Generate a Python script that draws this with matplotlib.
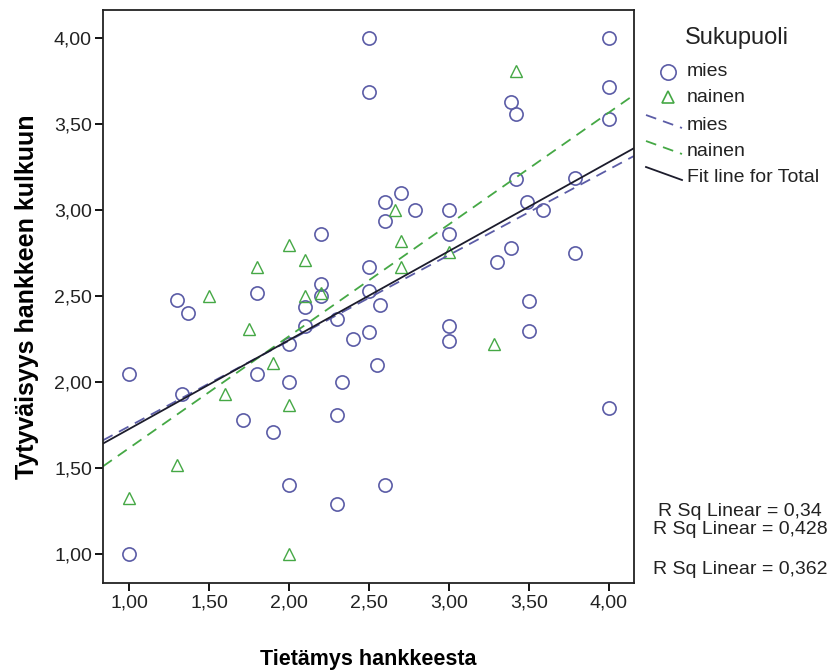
import numpy as np
import matplotlib
matplotlib.use("Agg")
import matplotlib.pyplot as plt
from matplotlib.lines import Line2D

# values (Tietämys vs Tytyväisyys, by sukupuoli)
mies_x = [2.50, 2.50, 4.00, 4.00, 4.00, 3.39, 3.42, 3.42, 3.79, 2.70,
          2.60, 2.60, 2.79, 3.00, 3.49, 3.59, 2.20, 3.00, 3.39, 3.79,
          3.30, 2.50, 2.20, 2.20, 2.10, 2.50, 2.57, 2.30, 2.10, 2.50,
          2.40, 3.00, 3.00, 3.50, 3.50, 2.55, 2.33, 1.30, 1.37, 1.80,
          2.00, 1.00, 1.80, 2.00, 1.33, 1.71, 1.90, 2.00, 1.00, 2.30,
          2.60, 2.30, 4.00]
mies_y = [4.00, 3.69, 4.00, 3.72, 3.53, 3.63, 3.56, 3.18, 3.19, 3.10,
          3.05, 2.94, 3.00, 3.00, 3.05, 3.00, 2.86, 2.86, 2.78, 2.75,
          2.70, 2.67, 2.57, 2.50, 2.44, 2.53, 2.45, 2.37, 2.33, 2.29,
          2.25, 2.33, 2.24, 2.47, 2.30, 2.10, 2.00, 2.48, 2.40, 2.52,
          2.22, 2.05, 2.05, 2.00, 1.93, 1.78, 1.71, 1.40, 1.00, 1.81,
          1.40, 1.29, 1.85]

nainen_x = [3.42, 2.66, 2.70, 2.70, 3.00, 2.10, 2.10, 2.20, 3.28, 2.00,
            1.80, 1.50, 1.75, 1.90, 1.60, 2.00, 1.30, 1.00, 2.00]
nainen_y = [3.81, 3.00, 2.82, 2.67, 2.76, 2.71, 2.50, 2.52, 2.22, 2.80,
            2.67, 2.50, 2.31, 2.11, 1.93, 1.87, 1.52, 1.33, 1.00]

ticks = [1.00, 1.50, 2.00, 2.50, 3.00, 3.50, 4.00]
tick_labels = ["1,00", "1,50", "2,00", "2,50", "3,00", "3,50", "4,00"]
r2_labels = ["R Sq Linear = 0,34", "R Sq Linear = 0,428", "R Sq Linear = 0,362"]

blue = "#5b5ca6"
green = "#45a845"
dark = "#1c1c2c"
W, H = 830, 670

fig = plt.figure(figsize=(8.3, 6.7), dpi=100)
ax = fig.add_axes([0.1241, 0.1299, 0.6398, 0.8552])

ax.plot(mies_x, mies_y, "o", ms=9.5, mfc="none", mec=blue, mew=1.2)
ax.plot(nainen_x, nainen_y, "^", ms=8, mfc="none", mec=green, mew=1.0)

xlo, xhi = 0.836, 4.158
xs = np.array([xlo, xhi])

# fit lines from the points
all_x = np.array(mies_x + nainen_x)
all_y = np.array(mies_y + nainen_y)
dash = (0, (6, 4))
fits = [(mies_x, mies_y, blue, dash),
        (nainen_x, nainen_y, green, dash),
        (all_x, all_y, dark, "-")]
for fx_, fy_, c, ls in fits:
    b, a = np.polyfit(fx_, fy_, 1)
    ax.plot(xs, a + b * xs, color=c, ls=ls, lw=1.3)

ax.set_xlim(xlo, xhi)
ax.set_ylim(0.833, 4.165)
ax.set_xticks(ticks)
ax.set_xticklabels(tick_labels)
ax.set_yticks(ticks)
ax.set_yticklabels(tick_labels)
for s in ax.spines.values():
    s.set_linewidth(1.3)
    s.set_color("#222222")
ax.tick_params(direction="out", length=6, width=1.3, labelsize=14, pad=2)
for lab in ax.get_xticklabels() + ax.get_yticklabels():
    lab.set_family("Liberation Sans")
    lab.set_color("#222222")

ax.set_xlabel("Tietämys hankkeesta", fontsize=15.5, fontweight="bold",
              family="Liberation Sans", labelpad=27)
ax.set_ylabel("Tytyväisyys hankkeen kulkuun", fontsize=18, fontweight="bold",
              family="Liberation Sans", labelpad=11)


def fx(px):
    return px / W


def fy(py):
    return 1 - py / H


# legend, drawn by hand in the SPSS layout (diagonal line handles)
fig.text(fx(737), fy(38), "Sukupuoli", ha="center", va="center", fontsize=17,
         family="Liberation Sans", color="#222222")
entries = [("mies", "o", blue, None), ("nainen", "^", green, None),
           ("mies", None, blue, dash), ("nainen", None, green, dash),
           ("Fit line for Total", None, dark, "-")]
rows = [72, 97, 126, 152, 178]
for (lab, mk, c, ls), ry in zip(entries, rows):
    if mk is not None:
        fig.add_artist(Line2D([fx(668)], [fy(ry)], ls="none", marker=mk,
                              ms=11 if mk == "o" else 9, mfc="none", mec=c,
                              mew=1.2, transform=fig.transFigure))
    else:
        fig.add_artist(Line2D([fx(646), fx(682)], [fy(ry - 11), fy(ry + 2)],
                              color=c, ls=ls, lw=1.3,
                              transform=fig.transFigure))
    fig.text(fx(687), fy(ry), lab, ha="left", va="center", fontsize=14,
             family="Liberation Sans", color="#222222")

for lab, ry in zip(r2_labels, [511, 530, 570]):
    fig.text(fx(740), fy(ry), lab, ha="center", va="center", fontsize=14,
             family="Liberation Sans", color="#222222")

fig.savefig("out.png", dpi=100)
